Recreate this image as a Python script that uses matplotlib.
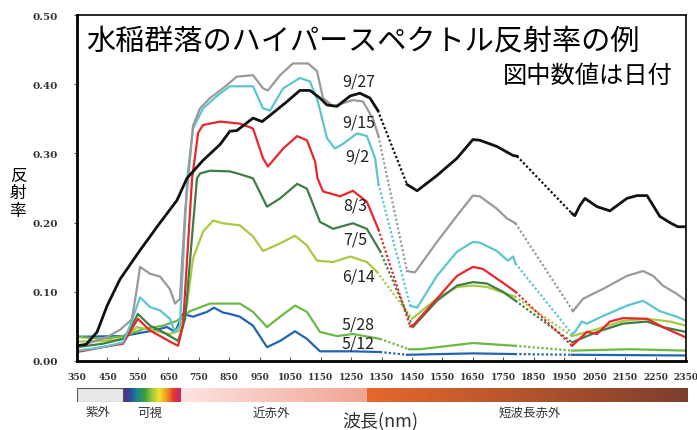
import numpy as np
import matplotlib
matplotlib.use('Agg')
import matplotlib.pyplot as plt
from matplotlib.colors import LinearSegmentedColormap
from matplotlib.patches import Rectangle

plt.rcParams['font.family'] = ['Noto Sans CJK JP', 'DejaVu Sans']

# 日付ごとの反射率 (波長 nm, 反射率) 図から読み取り
wl_0927 = [350, 380, 416, 449, 491, 557, 623, 678, 711, 764, 820, 852, 875, 928, 958, 984, 1040, 1082, 1115, 1148,
           1171, 1204, 1247, 1279, 1312, 1338,
           1434, 1467, 1532, 1598, 1650, 1673, 1729, 1782, 1795,
           1976, 1985, 2002, 2018, 2058, 2100, 2156, 2189, 2222, 2264, 2297, 2323, 2350]
r_0927 = [0.022, 0.024, 0.042, 0.080, 0.118, 0.160, 0.200, 0.232, 0.264, 0.290, 0.313, 0.332, 0.333, 0.351, 0.346,
          0.355, 0.375, 0.391, 0.391, 0.380, 0.370, 0.368, 0.383, 0.387, 0.380, 0.362,
          0.255, 0.246, 0.268, 0.293, 0.320, 0.319, 0.310, 0.297, 0.296,
          0.213, 0.210, 0.225, 0.235, 0.223, 0.217, 0.235, 0.239, 0.239, 0.209, 0.200, 0.194, 0.194]

wl_0915 = [350, 450, 491, 530, 545, 557, 590, 623, 655, 672, 688, 705, 715, 731, 754, 787, 829, 875, 928, 961, 977,
           1017, 1059, 1109, 1138, 1158, 1191, 1256, 1289, 1322, 1340,
           1434, 1460, 1532, 1598, 1650, 1673, 1729, 1762, 1790,
           1979, 2012, 2077, 2156, 2209, 2242, 2274, 2320, 2350]
r_0915 = [0.020, 0.035, 0.045, 0.060, 0.100, 0.136, 0.126, 0.122, 0.104, 0.083, 0.090, 0.216, 0.264, 0.340, 0.365,
          0.380, 0.394, 0.411, 0.413, 0.394, 0.391, 0.413, 0.430, 0.430, 0.419, 0.380, 0.368, 0.377, 0.375, 0.350,
          0.325,
          0.130, 0.128, 0.172, 0.210, 0.239, 0.238, 0.220, 0.206, 0.199,
          0.072, 0.090, 0.104, 0.123, 0.130, 0.123, 0.109, 0.097, 0.087]

wl_0902 = [350, 435, 501, 524, 557, 590, 623, 655, 672, 688, 712, 731, 764, 810, 852, 875, 928, 961, 984, 1027, 1082,
           1115, 1141, 1171, 1197, 1224, 1270, 1302, 1329, 1340,
           1444, 1467, 1532, 1598, 1650, 1673, 1729, 1765, 1782, 1790,
           1976, 1985, 2008, 2025, 2077, 2156, 2209, 2264, 2320, 2350]
r_0902 = [0.015, 0.020, 0.027, 0.051, 0.092, 0.078, 0.073, 0.061, 0.042, 0.051, 0.264, 0.336, 0.365, 0.383, 0.397,
          0.397, 0.397, 0.365, 0.362, 0.394, 0.409, 0.404, 0.375, 0.322, 0.307, 0.314, 0.329, 0.325, 0.293, 0.256,
          0.080, 0.077, 0.123, 0.158, 0.172, 0.171, 0.159, 0.145, 0.151, 0.141,
          0.039, 0.042, 0.057, 0.054, 0.065, 0.080, 0.087, 0.072, 0.064, 0.058]

wl_0803 = [350, 435, 501, 524, 550, 590, 623, 655, 682, 698, 728, 748, 764, 820, 885, 928, 961, 977, 1027, 1073, 1105,
           1132, 1140, 1158, 1214, 1256, 1302, 1340,
           1444, 1453, 1532, 1598, 1650, 1683, 1729, 1762, 1790,
           1976, 2025, 2058, 2100, 2143, 2222, 2274, 2350]
r_0803 = [0.013, 0.020, 0.025, 0.042, 0.061, 0.044, 0.036, 0.028, 0.022, 0.051, 0.264, 0.330, 0.341, 0.346, 0.343,
          0.336, 0.293, 0.281, 0.307, 0.325, 0.319, 0.288, 0.264, 0.245, 0.238, 0.246, 0.230, 0.190,
          0.050, 0.051, 0.090, 0.123, 0.136, 0.133, 0.119, 0.109, 0.100,
          0.022, 0.042, 0.039, 0.057, 0.062, 0.061, 0.049, 0.034]

wl_0705 = [350, 435, 501, 524, 550, 590, 623, 655, 682, 705, 744, 754, 787, 852, 885, 928, 974, 1017, 1073, 1105,
           1148, 1191, 1256, 1302, 1345,
           1453, 1532, 1598, 1650, 1696, 1749, 1790,
           1976, 2058, 2143, 2222, 2274, 2350]
r_0705 = [0.020, 0.025, 0.032, 0.046, 0.068, 0.051, 0.044, 0.036, 0.029, 0.061, 0.264, 0.271, 0.275, 0.274, 0.270,
          0.264, 0.223, 0.235, 0.256, 0.249, 0.201, 0.191, 0.199, 0.191, 0.159,
          0.049, 0.087, 0.109, 0.114, 0.112, 0.100, 0.087,
          0.027, 0.042, 0.054, 0.057, 0.049, 0.042]

wl_0614 = [350, 435, 501, 547, 600, 655, 688, 711, 731, 764, 797, 829, 885, 928, 961, 1017, 1066, 1105, 1138, 1191,
           1247, 1302, 1335,
           1450, 1532, 1598, 1650, 1696, 1788,
           1976, 2058, 2143, 2222, 2297, 2350]
r_0614 = [0.028, 0.029, 0.032, 0.049, 0.044, 0.039, 0.044, 0.080, 0.148, 0.187, 0.203, 0.199, 0.196, 0.180, 0.159,
          0.170, 0.181, 0.167, 0.145, 0.143, 0.151, 0.143, 0.129,
          0.061, 0.090, 0.107, 0.109, 0.107, 0.093,
          0.036, 0.046, 0.058, 0.061, 0.057, 0.051]

wl_0528 = [350, 435, 501, 567, 632, 678, 721, 787, 852, 885, 928, 974, 1017, 1066, 1105, 1148, 1204, 1256, 1345,
           1440, 1476, 1650, 1788,
           1976, 2166, 2350]
r_0528 = [0.035, 0.032, 0.036, 0.046, 0.051, 0.058, 0.072, 0.083, 0.083, 0.083, 0.071, 0.049, 0.064, 0.080, 0.071,
          0.042, 0.036, 0.039, 0.032,
          0.017, 0.017, 0.026, 0.022,
          0.015, 0.017, 0.015]

wl_0512 = [350, 501, 600, 646, 672, 698, 731, 777, 800, 830, 852, 885, 928, 974, 1017, 1066, 1105, 1148, 1256, 1345,
           1434, 1650, 1788,
           1976, 2350]
r_0512 = [0.035, 0.036, 0.044, 0.049, 0.042, 0.068, 0.064, 0.071, 0.077, 0.070, 0.068, 0.064, 0.051, 0.020, 0.029,
          0.043, 0.032, 0.014, 0.014, 0.013,
          0.009, 0.011, 0.010,
          0.009, 0.008]

dates = ['5/12', '5/28', '6/14', '7/5', '8/3', '9/2', '9/15', '9/27']
wls = [wl_0512, wl_0528, wl_0614, wl_0705, wl_0803, wl_0902, wl_0915, wl_0927]
refls = [r_0512, r_0528, r_0614, r_0705, r_0803, r_0902, r_0915, r_0927]
colors = ['#2462b4', '#6cb845', '#a9c941', '#3f7d45', '#e8262b', '#5cc6cf', '#9a9a9a', '#111111']
label_xy = [(1220, 0.026), (1220, 0.054), (1222, 0.123), (1225, 0.177), (1225, 0.226), (1230, 0.296),
            (1220, 0.345), (1220, 0.404)]

# 水の吸収帯 (ここで線を切って点線でつなぐ)
band_edges = [1390, 1900]

xticks = np.arange(350, 2351, 100)
yticks = [0.0, 0.1, 0.2, 0.3, 0.4, 0.5]

W, H = 697, 431
fig = plt.figure(figsize=(W / 100, H / 100), dpi=100)
ax = fig.add_axes([77 / W, 1 - 362 / H, 609 / W, 346 / H])


def draw_curve(ax, wl, r, color, lw):
    wl = np.array(wl)
    r = np.array(r)
    band = np.digitize(wl, band_edges)
    segs = [np.where(band == k)[0] for k in range(len(band_edges) + 1)]
    for s in segs:
        ax.plot(wl[s], r[s], color=color, lw=lw, solid_joinstyle='round')
    for a, b in zip(segs[:-1], segs[1:]):
        ax.plot([wl[a[-1]], wl[b[0]]], [r[a[-1]], r[b[0]]], color=color, lw=1.6, ls=(0, (1, 1)))


for i in range(len(dates)):
    lw = 2.0 if dates[i] == '9/27' else 1.6
    draw_curve(ax, wls[i], refls[i], colors[i], lw)
    ax.text(label_xy[i][0], label_xy[i][1], dates[i], fontsize=11.5, color='#222222', ha='left', va='center')

ax.set_xlim(350, 2350)
ax.set_ylim(0, 0.5)
ax.set_xticks(xticks)
ax.set_yticks(yticks)
ax.set_xticklabels([str(v) for v in xticks], fontfamily='DejaVu Serif', fontweight='bold', fontsize=6.5,
                   color='#333333')
ax.set_yticklabels(['%.2f' % v for v in yticks], fontfamily='DejaVu Serif', fontweight='bold', fontsize=7.5,
                   color='#333333')
ax.tick_params(axis='x', direction='in', length=3, pad=8, color='#555555')
ax.tick_params(axis='y', direction='out', length=2, pad=12, color='#555555')
for side in ['left', 'bottom']:
    ax.spines[side].set_linewidth(2.0)
for side in ['top', 'right']:
    ax.spines[side].set_linewidth(1.2)

fig.text(363 / W, 1 - 42 / H, '水稲群落のハイパースペクトル反射率の例', fontsize=21, ha='center', va='center')
fig.text(673 / W, 1 - 76 / H, '図中数値は日付', fontsize=17.5, ha='right', va='center')
fig.text(18 / W, 1 - 194 / H, '反\n射\n率', fontsize=12, ha='center', va='center', linespacing=1.05)

# 波長帯のカラーバー
bax = fig.add_axes([77 / W, 1 - 403 / H, 610 / W, 14 / H])
bax.set_xlim(350, 2350)
bax.set_ylim(0, 1)
bax.axis('off')
grad = np.linspace(0, 1, 256)[None, :]
vis_cmap = LinearSegmentedColormap.from_list('vis', ['#5b2d86', '#2b4c9e', '#1f8a8a', '#3a9e3c', '#9cc83a',
                                                     '#f2e32a', '#f39a22', '#e23a2a', '#c4237a'])
nir_cmap = LinearSegmentedColormap.from_list('nir', ['#fde4e0', '#f0a492'])
swir_cmap = LinearSegmentedColormap.from_list('swir', ['#e8682a', '#7c3f2e'])
bax.add_patch(Rectangle((350, 0), 150, 1, facecolor='#e8e8e8', edgecolor='#555555', lw=0.8))
bax.imshow(grad, cmap=vis_cmap, extent=[500, 690, 0, 1], aspect='auto')
bax.imshow(grad, cmap=nir_cmap, extent=[690, 1300, 0, 1], aspect='auto')
bax.imshow(grad, cmap=swir_cmap, extent=[1300, 2350, 0, 1], aspect='auto')

fig.text(98 / W, 1 - 413 / H, '紫外', fontsize=9, ha='center', va='center', color='#333333')
fig.text(150 / W, 1 - 413 / H, '可視', fontsize=9, ha='center', va='center', color='#333333')
fig.text(271 / W, 1 - 413 / H, '近赤外', fontsize=9, ha='center', va='center', color='#333333')
fig.text(530 / W, 1 - 413 / H, '短波長赤外', fontsize=9, ha='center', va='center', color='#333333')
fig.text(380 / W, 1 - 421 / H, '波長(nm)', fontsize=13, ha='center', va='center', color='#333333')

fig.savefig('out.png', dpi=100)
